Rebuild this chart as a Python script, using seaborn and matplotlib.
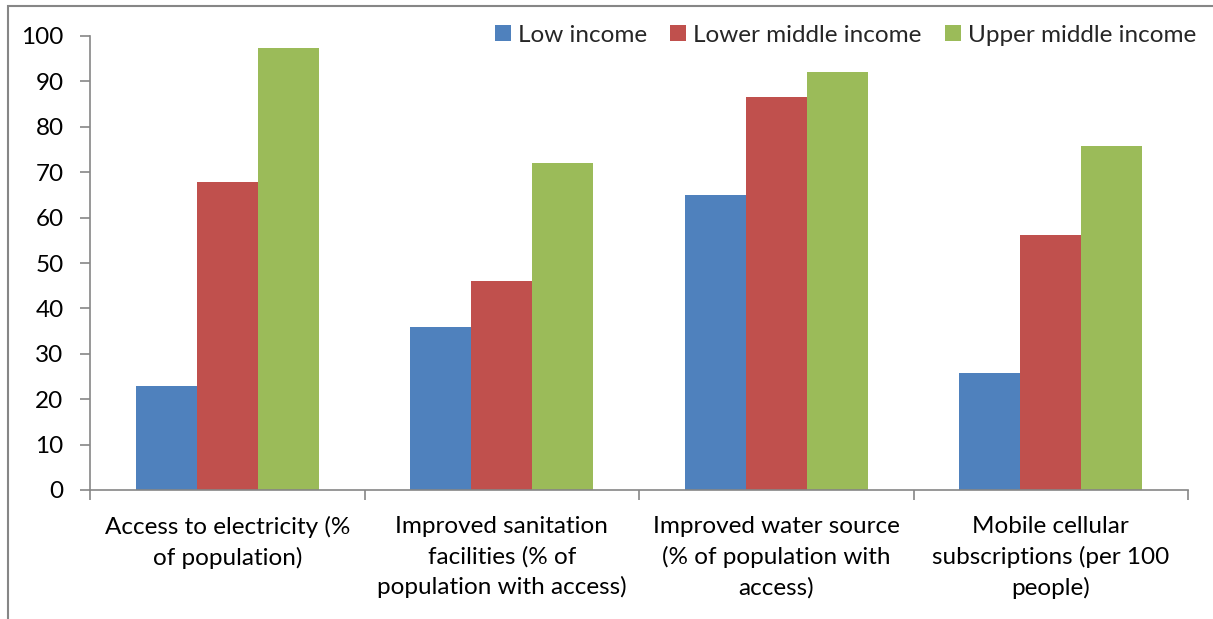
import seaborn as sns
import pandas as pd
import matplotlib.pyplot as plt
from matplotlib.patches import Rectangle

categories = ['Access to electricity (%\nof population)',
              'Improved sanitation\nfacilities (% of\npopulation with access)',
              'Improved water source\n(% of population with\naccess)',
              'Mobile cellular\nsubscriptions (per 100\npeople)']
groups = ['Low income', 'Lower middle income', 'Upper middle income']
low_income = [23.0, 36.0, 64.9, 25.8]
lower_middle = [67.8, 46.0, 86.6, 56.1]
upper_middle = [97.4, 72.0, 92.0, 75.7]
colors = ['#4F81BD', '#C0504D', '#9BBB59']

df = pd.DataFrame({
    'category': categories * 3,
    'group': [g for g in groups for _ in categories],
    'value': low_income + lower_middle + upper_middle,
})

sns.set_style('white')
plt.rcParams['font.family'] = ['Lato', 'DejaVu Sans']

fig = plt.figure(figsize=(12.13, 6.19), dpi=100)
ax = fig.add_axes([90 / 1213, 1 - 490 / 619, 1098 / 1213, 454 / 619])

sns.barplot(data=df, x='category', y='value', hue='group', hue_order=groups,
            order=categories, palette=colors, width=0.667, saturation=1,
            ax=ax, linewidth=0, legend=True)

ax.set_xlim(-0.5, 3.5)
ax.set_ylim(0, 100)
ax.set_yticks(range(0, 101, 10))
ax.set_xlabel('')
ax.set_ylabel('')
for s in ['top', 'right']:
    ax.spines[s].set_visible(False)
for s in ['left', 'bottom']:
    ax.spines[s].set_color('#868686')
    ax.spines[s].set_linewidth(1.2)

ax.tick_params(axis='y', which='major', direction='out', length=7, width=1.2,
               color='#868686', labelsize=17.5, pad=12, left=True, labelcolor='black')
ax.tick_params(axis='x', which='major', length=0, labelsize=17.5, pad=19, labelcolor='black')
ax.set_xticks([-0.5, 0.5, 1.5, 2.5, 3.5], minor=True)
ax.tick_params(axis='x', which='minor', direction='out', length=7, width=1.2,
               color='#868686', bottom=True)
for lab in ax.get_xticklabels():
    lab.set_linespacing(1.48)

handles, labels = ax.get_legend_handles_labels()
ax.get_legend().remove()
fig.legend(handles, labels, loc='center right', bbox_to_anchor=(1206 / 1213, 1 - 35 / 619),
           ncol=3, frameon=False, fontsize=17.5, handlelength=0.65, handleheight=0.65,
           handletextpad=0.3, columnspacing=0.95, borderaxespad=0)

fig.patches.append(Rectangle((8 / 1213, -0.2), 1.2, 1.2 - 6 / 619,
                             transform=fig.transFigure, fill=False,
                             edgecolor='#868686', linewidth=1.5))

fig.savefig('out.png', dpi=100)
